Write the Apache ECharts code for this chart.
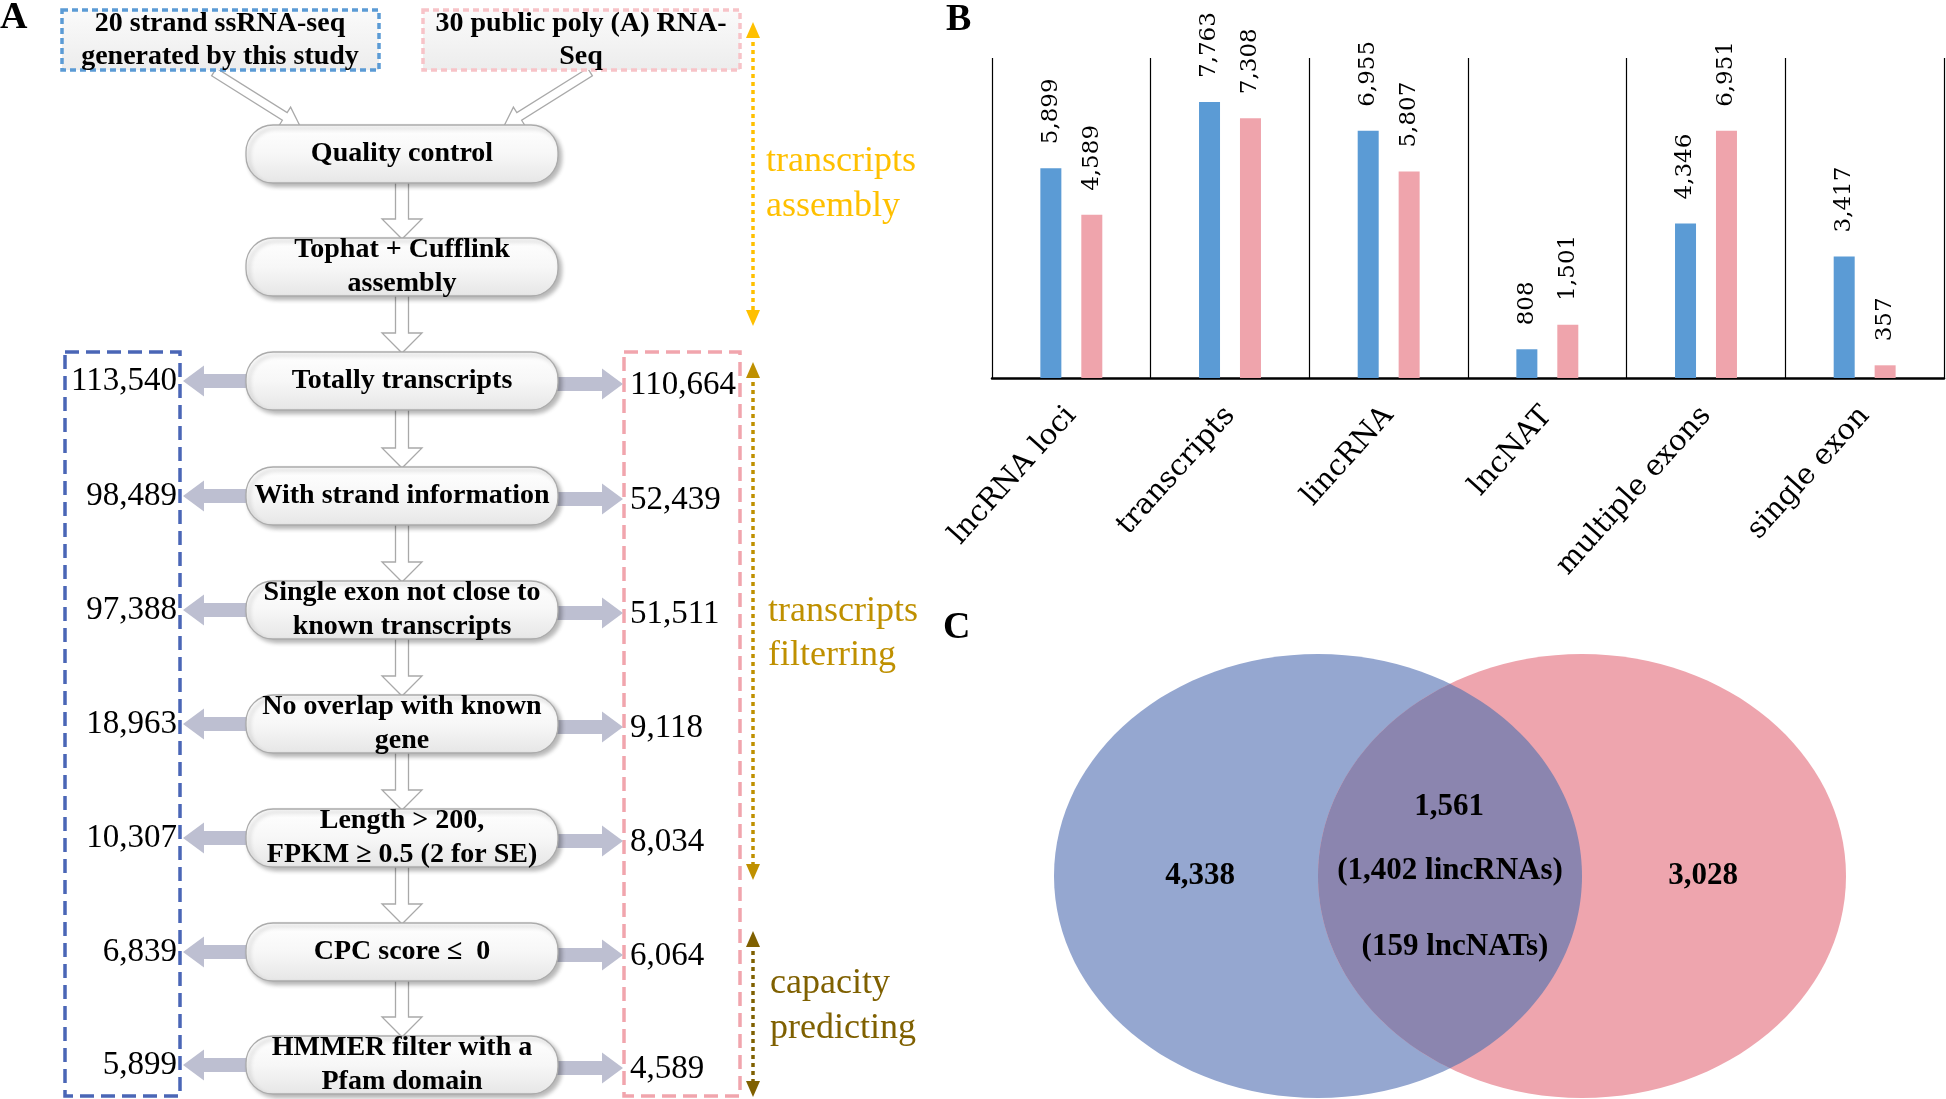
<!DOCTYPE html>
<html><head><meta charset="utf-8">
<script src="https://cdn.jsdelivr.net/npm/echarts@6/dist/echarts.min.js"></script>
<style>html,body{margin:0;padding:0;background:#fff}#c{width:1946px;height:1099px}</style>
</head><body><div id="c"></div>
<script>
// ---- data ----
const categories = ['lncRNA loci', 'transcripts', 'lincRNA', 'lncNAT', 'multiple exons', 'single exon'];
const ssRnaSeqValues = [5899, 7763, 6955, 808, 4346, 3417];
const polyAValues = [4589, 7308, 5807, 1501, 6951, 357];
const sourceLabels = [['20 strand ssRNA-seq', 'generated by this study'], ['30 public poly (A) RNA-', 'Seq']];
const flowSteps = ['Quality control', 'Tophat + Cufflink\nassembly', 'Totally transcripts', 'With strand information',
  'Single exon not close to\nknown transcripts', 'No overlap with known\ngene', 'Length > 200,\nFPKM \u2265 0.5 (2 for SE)',
  'CPC score \u2264  0', 'HMMER filter with a\nPfam domain'];
const ssRnaCounts = [113540, 98489, 97388, 18963, 10307, 6839, 5899];
const polyACounts = [110664, 52439, 51511, 9118, 8034, 6064, 4589];
const stageLabels = ['transcripts\nassembly', 'transcripts\nfilterring', 'capacity\npredicting'];
const vennOnlySs = 4338;
const vennOnlyPolyA = 3028;
const vennShared = 1561;
const vennSharedLinc = 1402;
const vennSharedNat = 159;

const fmt = v => v.toLocaleString('en-US');
const SERIF = '"Liberation Serif", "Times New Roman", serif';

const chart = echarts.init(document.getElementById('c'), null, {renderer: 'canvas'});
const G = [];

function txt(x, y, text, size, opts) {
  opts = opts || {};
  G.push({type: 'text', x: x, y: y, z: opts.z || 20, scaleY: opts.sy || 1,
    style: {text: text, fill: opts.color || '#000',
      font: (opts.italic ? 'italic ' : '') + (opts.bold ? 'bold ' : '') + size + 'px ' + (opts.family || SERIF),
      align: opts.align || 'center', verticalAlign: 'middle',
      textAlign: opts.align || 'center', textVerticalAlign: 'middle',
      lineHeight: opts.lh || size * 1.2}});
}
function arrowPts(x0, y0, x1, y1, sw, hw, hl) {
  const L = Math.hypot(x1 - x0, y1 - y0), ux = (x1 - x0) / L, uy = (y1 - y0) / L, nx = -uy, ny = ux;
  const bx = x1 - ux * hl, by = y1 - uy * hl;
  return [[x0 + nx * sw / 2, y0 + ny * sw / 2], [bx + nx * sw / 2, by + ny * sw / 2], [bx + nx * hw / 2, by + ny * hw / 2],
    [x1, y1], [bx - nx * hw / 2, by - ny * hw / 2], [bx - nx * sw / 2, by - ny * sw / 2], [x0 - nx * sw / 2, y0 - ny * sw / 2]];
}
function hollowArrow(x0, y0, x1, y1, sw, hw, hl) {
  G.push({type: 'polygon', z: 3, shape: {points: arrowPts(x0, y0, x1, y1, sw, hw, hl)},
    style: {fill: '#fff', stroke: '#A9A9A9', lineWidth: 1.3}});
}
function blockArrow(x0, y0, x1, y1) {
  G.push({type: 'polygon', z: 3, shape: {points: arrowPts(x0, y0, x1, y1, 14, 31, 21)},
    style: {fill: '#BDBFD1'}});
}
function dottedArrow(x, y0, y1, color) {
  G.push({type: 'line', z: 4, shape: {x1: x, y1: y0 + 12, x2: x, y2: y1 - 12},
    style: {stroke: color, lineWidth: 3.5, lineDash: [4, 4]}});
  G.push({type: 'polygon', z: 4, shape: {points: [[x, y0], [x - 7, y0 + 16], [x + 7, y0 + 16]]}, style: {fill: color}});
  G.push({type: 'polygon', z: 4, shape: {points: [[x, y1], [x - 7, y1 - 16], [x + 7, y1 - 16]]}, style: {fill: color}});
}

// panel letters
txt(0, 18, 'A', 38, {bold: true, align: 'left'});
txt(946, 20, 'B', 38, {bold: true, align: 'left'});
txt(943, 628, 'C', 38, {bold: true, align: 'left'});

// source boxes
const boxFill = new echarts.graphic.LinearGradient(0, 0, 0, 1, [{offset: 0, color: '#FBFBFB'}, {offset: 1, color: '#ECECEC'}]);
[[62, '#5B9BD5'], [423, '#F7C3C8']].forEach((b, i) => {
  G.push({type: 'rect', z: 5, shape: {x: b[0], y: 10, width: 317, height: 60},
    style: {fill: boxFill, stroke: b[1], lineWidth: 3.5, lineDash: [6, 4]}});
  txt(b[0] + 158, 24, sourceLabels[i][0], 28, {bold: true});
  txt(b[0] + 158, 57, sourceLabels[i][1], 28, {bold: true});
});
hollowArrow(214, 72, 300, 126, 9, 22, 18);
hollowArrow(590, 72, 504, 126, 9, 22, 18);

// flow boxes
const cys = [154, 267, 381, 496, 610, 724, 838, 952, 1065];
const BX = 246, BW = 312, BH = 58, CX = BX + BW / 2;
for (let i = 0; i < cys.length - 1; i++) {
  hollowArrow(CX, cys[i] + BH / 2 - 2, CX, cys[i + 1] - BH / 2 + 1, 13, 40, 20);
}
cys.forEach((cy, i) => {
  G.push({type: 'rect', z: 6, shape: {x: BX, y: cy - BH / 2, width: BW, height: BH, r: 27},
    style: {fill: new echarts.graphic.LinearGradient(0, 0, 0, 1, [{offset: 0, color: '#FFFFFF'}, {offset: 0.5, color: '#F7F7F7'}, {offset: 1, color: '#E6E6E6'}]),
      stroke: '#ABABAB', lineWidth: 1.3, shadowBlur: 4, shadowOffsetX: 3, shadowOffsetY: 3, shadowColor: 'rgba(0,0,0,0.28)'}});
  txt(CX, cy, flowSteps[i], 28, {bold: true, lh: 34});
});

// side counts
G.push({type: 'rect', z: 2, shape: {x: 65, y: 352, width: 115, height: 744},
  style: {fill: 'none', stroke: '#4A66B6', lineWidth: 3.5, lineDash: [14, 7]}});
G.push({type: 'rect', z: 2, shape: {x: 624, y: 352, width: 116, height: 744},
  style: {fill: 'none', stroke: '#F1A5AD', lineWidth: 3.5, lineDash: [14, 7]}});
ssRnaCounts.forEach((v, k) => {
  const cy = cys[k + 2];
  blockArrow(BX + 4, cy, 183, cy);
  blockArrow(BX + BW - 4, cy + 3, 623, cy + 3);
  txt(177, cy, fmt(v), 33, {align: 'right'});
  txt(630, cy + 4, fmt(polyACounts[k]), 33, {align: 'left'});
});

// stage arrows + labels
dottedArrow(753, 22, 326, '#FFC000');
dottedArrow(753, 362, 880, '#BF9000');
dottedArrow(753, 931, 1097, '#7F6000');
txt(766, 184, stageLabels[0], 36, {align: 'left', color: '#FFC000', lh: 45});
txt(768, 634, stageLabels[1], 36, {align: 'left', color: '#BF9000', lh: 44});
txt(770, 1006, stageLabels[2], 36, {align: 'left', color: '#7F6000', lh: 45});

// Venn
const vcy = 876, vry = 222, c1 = 1318, c2 = 1582, vrx = 264;
G.push({type: 'ellipse', z: 1, shape: {cx: c1, cy: vcy, rx: vrx, ry: vry}, style: {fill: '#95A7D0'}});
G.push({type: 'ellipse', z: 1, shape: {cx: c2, cy: vcy, rx: vrx, ry: vry}, style: {fill: '#EEA5AE'}});
(function () {
  const pts = [];
  const N = 90;
  const xm = (c1 + c2) / 2;
  const t0 = Math.acos((xm - c1) / vrx);
  for (let i = 0; i <= N; i++) { const t = -t0 + 2 * t0 * i / N; pts.push([c1 + vrx * Math.cos(t), vcy + vry * Math.sin(t)]); }
  for (let i = 0; i <= N; i++) { const t = Math.PI - t0 + 2 * t0 * i / N; pts.push([c2 + vrx * Math.cos(t), vcy + vry * Math.sin(t)]); }
  G.push({type: 'polygon', z: 2, shape: {points: pts}, style: {fill: '#8B85AF'}});
})();
txt(1200, 876, fmt(vennOnlySs), 31, {bold: true});
txt(1703, 876, fmt(vennOnlyPolyA), 31, {bold: true});
txt(1449, 807, fmt(vennShared), 31, {bold: true});
txt(1450, 871, '(' + fmt(vennSharedLinc) + ' lincRNAs)', 31, {bold: true});
txt(1455, 947, '(' + vennSharedNat + ' lncNATs)', 31, {bold: true});

const labelCfg = {show: true, position: 'top', rotate: 90, align: 'left', verticalAlign: 'middle', distance: 24,
  fontFamily: '"DejaVu Serif", serif', fontSize: 23, color: '#000', formatter: p => fmt(p.value)};

chart.setOption({
  animation: false,
  backgroundColor: '#fff',
  grid: {left: 992, top: 58, width: 952, height: 320, containLabel: false},
  xAxis: {type: 'category', data: categories,
    axisLine: {show: true, lineStyle: {color: '#000', width: 2.5}},
    axisTick: {show: false},
    splitLine: {show: true, lineStyle: {color: '#000', width: 1.2}},
    axisLabel: {rotate: 48, margin: 33, fontFamily: '"DejaVu Serif", serif', fontSize: 29, color: '#000', interval: 0}},
  yAxis: {type: 'value', min: 0, max: 9000, show: false},
  series: [
    {type: 'bar', name: 'ssRNA-seq', data: ssRnaSeqValues, barWidth: 21, barGap: '95%', itemStyle: {color: '#5B9BD5'}, label: labelCfg},
    {type: 'bar', name: 'poly(A) RNA-seq', data: polyAValues, barWidth: 21, itemStyle: {color: '#EFA4AC'}, label: labelCfg}
  ],
  graphic: G
});
</script></body></html>
